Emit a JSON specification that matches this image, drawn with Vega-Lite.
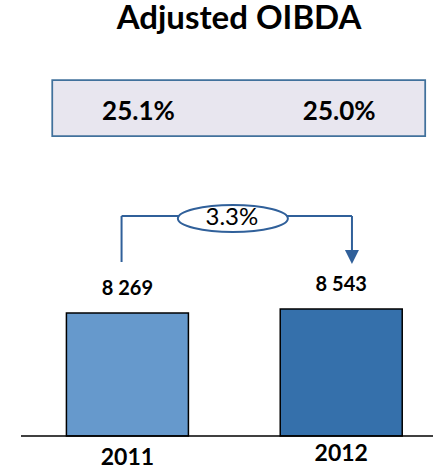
{
  "$schema": "https://vega.github.io/schema/vega-lite/v6.json",
  "width": 422,
  "height": 376,
  "autosize": "none",
  "padding": {"left": 16, "top": 60, "right": 0, "bottom": 33},
  "background": "white",
  "title": {
    "text": "Adjusted OIBDA",
    "font": "Lato",
    "fontSize": 33,
    "fontWeight": "bold",
    "color": "black",
    "anchor": "middle",
    "frame": "group",
    "baseline": "alphabetic",
    "offset": -2,
    "dx": 12
  },
  "data": {
    "values": [
      {"year": 2011, "oibda": 8269, "margin": 0.251},
      {"year": 2012, "oibda": 8543, "margin": 0.250}
    ]
  },
  "layer": [
    {
      "mark": {"type": "bar", "width": 122, "stroke": "black", "strokeWidth": 1.5},
      "encoding": {
        "x": {
          "field": "year",
          "type": "quantitative",
          "scale": {"domain": [2010.50228, 2012.42922], "nice": false, "zero": false},
          "axis": null
        },
        "y": {
          "field": "oibda",
          "type": "quantitative",
          "scale": {"domain": [0, 25286], "nice": false, "zero": true},
          "axis": null
        },
        "color": {
          "field": "year",
          "type": "nominal",
          "scale": {"domain": [2011, 2012], "range": ["#6699CC", "#3570AB"]},
          "legend": null
        }
      }
    },
    {
      "data": {"values": [{}]},
      "mark": {"type": "rule", "color": "black", "strokeWidth": 1.5},
      "encoding": {
        "x": {"datum": 2010.50228, "type": "quantitative", "axis": null},
        "x2": {"datum": 2012.42922},
        "y": {"datum": 0, "type": "quantitative", "axis": null}
      }
    },
    {
      "mark": {"type": "text", "font": "Lato", "fontWeight": "bold", "fontSize": 23, "color": "black", "baseline": "alphabetic", "align": "center", "dy": {"expr": "datum.year === 2011 ? 29 : 25"}},
      "encoding": {
        "x": {"field": "year", "type": "quantitative", "axis": null},
        "y": {"datum": 0, "type": "quantitative", "axis": null},
        "text": {"field": "year", "type": "quantitative", "format": "d"}
      }
    },
    {
      "mark": {"type": "text", "font": "Lato", "fontWeight": "bold", "fontSize": 20, "color": "black", "baseline": "alphabetic", "align": "center", "dy": -18},
      "encoding": {
        "x": {"field": "year", "type": "quantitative", "axis": null},
        "y": {"field": "oibda", "type": "quantitative", "axis": null},
        "text": {"field": "oibda", "type": "quantitative", "format": ","}
      }
    },
    {
      "data": {"values": [{}]},
      "mark": {"type": "rect", "fill": "#000000", "opacity": 0.22, "xOffset": 3, "yOffset": 3},
      "encoding": {
        "x": {"datum": 2010.6484, "type": "quantitative", "axis": null},
        "x2": {"datum": 2012.3927},
        "y": {"datum": 23941, "type": "quantitative", "axis": null},
        "y2": {"datum": 20175}
      }
    },
    {
      "data": {"values": [{}]},
      "mark": {"type": "rect", "fill": "#E8E6EF", "stroke": "#41719C", "strokeWidth": 1.75},
      "encoding": {
        "x": {"datum": 2010.6484, "type": "quantitative", "axis": null},
        "x2": {"datum": 2012.3927},
        "y": {"datum": 23941, "type": "quantitative", "axis": null},
        "y2": {"datum": 20175}
      }
    },
    {
      "mark": {"type": "text", "font": "Lato", "fontWeight": "bold", "fontSize": 26, "color": "black", "baseline": "alphabetic", "align": "center", "dx": {"expr": "datum.year === 2011 ? 11 : -2"}},
      "encoding": {
        "x": {"field": "year", "type": "quantitative", "axis": null},
        "y": {"datum": 21251, "type": "quantitative", "axis": null},
        "text": {"field": "margin", "type": "quantitative", "format": ".1%"}
      }
    },
    {
      "data": {"values": [{}]},
      "mark": {"type": "rule", "color": "#30609A", "strokeWidth": 2},
      "encoding": {
        "x": {"datum": 2010.9726, "type": "quantitative", "axis": null},
        "y": {"datum": 11702, "type": "quantitative", "axis": null},
        "y2": {"datum": 14795}
      }
    },
    {
      "data": {"values": [{}]},
      "mark": {"type": "rule", "color": "#30609A", "strokeWidth": 2},
      "encoding": {
        "x": {"datum": 2010.9726, "type": "quantitative", "axis": null},
        "x2": {"datum": 2011.2420},
        "y": {"datum": 14795, "type": "quantitative", "axis": null}
      }
    },
    {
      "data": {"values": [{}]},
      "mark": {"type": "rule", "color": "#30609A", "strokeWidth": 2},
      "encoding": {
        "x": {"datum": 2011.7443, "type": "quantitative", "axis": null},
        "x2": {"datum": 2012.0502},
        "y": {"datum": 14795, "type": "quantitative", "axis": null}
      }
    },
    {
      "data": {"values": [{}]},
      "mark": {"type": "rule", "color": "#30609A", "strokeWidth": 2},
      "encoding": {
        "x": {"datum": 2012.0502, "type": "quantitative", "axis": null},
        "y": {"datum": 14795, "type": "quantitative", "axis": null},
        "y2": {"datum": 12374}
      }
    },
    {
      "data": {"values": [{}]},
      "mark": {"type": "point", "shape": "M-1,-1L1,-1L0,1Z", "size": 196, "filled": true, "color": "#30609A", "opacity": 1},
      "encoding": {
        "x": {"datum": 2012.0502, "type": "quantitative", "axis": null},
        "y": {"datum": 12038, "type": "quantitative", "axis": null}
      }
    },
    {
      "data": {"values": [{}]},
      "mark": {"type": "point", "shape": "M-1,0A1,0.245,0,1,1,1,0A1,0.245,0,1,1,-1,0Z", "size": 12100, "filled": true, "fill": "white", "stroke": "#30609A", "strokeWidth": 2, "opacity": 1},
      "encoding": {
        "x": {"datum": 2011.4932, "type": "quantitative", "axis": null},
        "y": {"datum": 14627, "type": "quantitative", "axis": null}
      }
    },
    {
      "data": {"values": [{"growth": 0.033}]},
      "mark": {"type": "text", "font": "Lato", "fontSize": 24, "color": "black", "baseline": "alphabetic", "align": "center"},
      "encoding": {
        "x": {"datum": 2011.4886, "type": "quantitative", "axis": null},
        "y": {"datum": 14190, "type": "quantitative", "axis": null},
        "text": {"field": "growth", "type": "quantitative", "format": ".1%"}
      }
    }
  ],
  "config": {
    "view": {"stroke": null},
    "font": "Lato",
    "locale": {
      "number": {"decimal": ".", "thousands": " ", "grouping": [3], "currency": ["", ""]}
    }
  }
}
